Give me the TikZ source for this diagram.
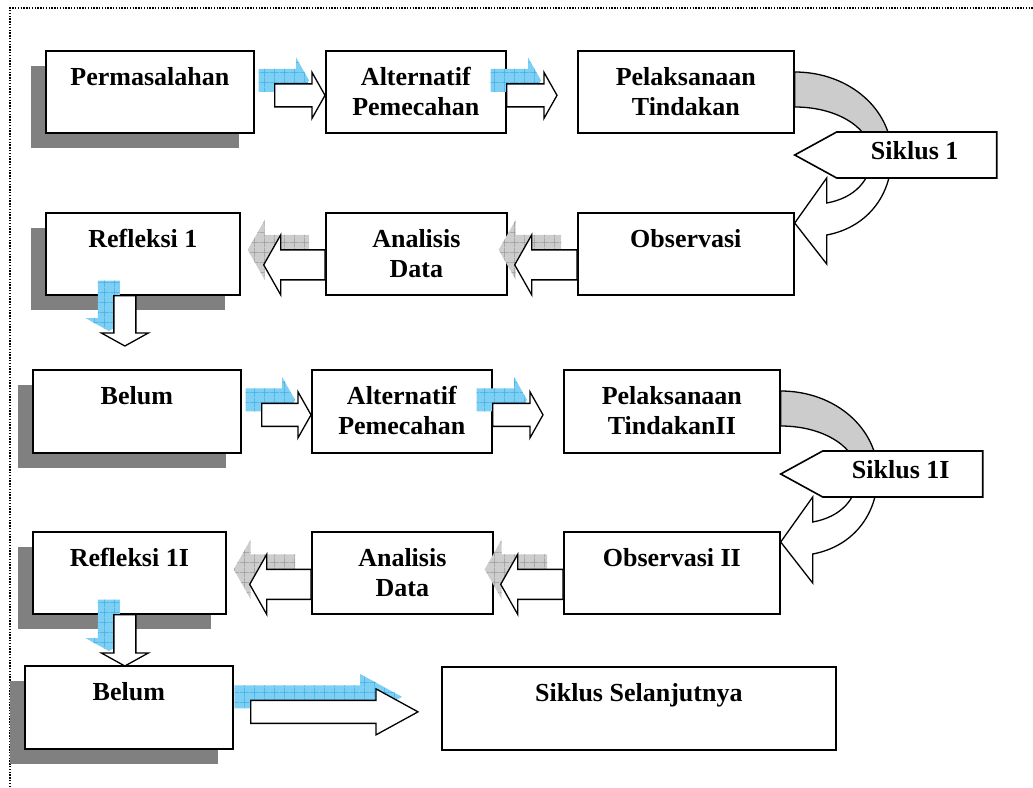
\documentclass[tikz,border=0pt]{standalone}
\usepackage{fontspec}
\setmainfont{Liberation Serif}
\usetikzlibrary{calc,shadows,patterns.meta}

\definecolor{biru}{RGB}{125,208,243}
\definecolor{birutua}{RGB}{60,170,228}
\definecolor{abu}{RGB}{205,205,205}
\definecolor{abutua}{RGB}{150,150,150}
\definecolor{bayang}{RGB}{128,128,128}
\definecolor{lengkung}{RGB}{204,204,204}

\tikzdeclarepattern{name=petak, type=uncolored,
  bounding box={(0pt,0pt) and (10pt,10pt)}, tile size={(10pt,10pt)},
  code={\draw[line width=.6pt] (0pt,5pt) -- (10pt,5pt) (5pt,0pt) -- (5pt,10pt);}}

\tikzset{
  kotak/.style={draw, line width=1.7pt, fill=white, anchor=north west, inner sep=0pt},
  berbayang/.style={drop shadow={shadow xshift=-15pt, shadow yshift=-15pt, opacity=1, fill=bayang}},
  teks/.style={anchor=north, inner sep=0pt, align=center, font=\fontsize{26}{30}\selectfont\bfseries},
  panah/.style={draw, line width=1.3pt, fill=white},
  biruarsir/.style={fill=biru, postaction={pattern=petak, pattern color=birutua}},
  abuarsir/.style={fill=abu, postaction={pattern=petak, pattern color=abutua}},
}

% badan panah blok dari titik T, H, P
\newcommand\badan[3]{($(#1T)!#2!90:(#1P)$) -- ($(#1H)!#2!90:(#1P)$) -- ($(#1H)!#3!90:(#1P)$) -- (#1P) -- ($(#1H)!#3!-90:(#1P)$) -- ($(#1H)!#2!-90:(#1P)$) -- ($(#1T)!#2!-90:(#1P)$) -- cycle}
\newcommand\blokpanah[6]{%
  \path #2 coordinate (pT) #3 coordinate (pP);
  \path ($(pP)!#6!(pT)$) coordinate (pH)
    ($(pT)+(-16,-15)$) coordinate (sT) ($(pP)+(-16,-15)$) coordinate (sP) ($(pH)+(-16,-15)$) coordinate (sH);
  \fill[#1] \badan{s}{#4}{#5};
  \draw[panah] \badan{p}{#4}{#5};
}
\newcommand\putaran[3]{%
  \begin{scope}[shift={(#1.north east)}]
  \draw[panah, fill=lengkung] (0,22) .. controls (55,22) and (97,60) .. (97,105) -- (77,105) .. controls (77,80) and (45,57) .. (0,57) -- cycle;
  \draw[panah] (97,105) .. controls (97,148) and (70,178) .. (32,185) -- (32,214) -- (0,173) -- (32,128) -- (32,153) .. controls (60,148) and (77,130) .. (77,105) -- cycle;
  \draw[panah, line width=1.6pt] (0,105) -- (42,82) -- (202,82) -- (202,128) -- (42,128) -- cycle;
  \node[teks, anchor=center] (#2) at (120,101) {#3};
  \end{scope}
}

\begin{document}
\begin{tikzpicture}[x=1pt,y=-1pt]
\useasboundingbox (0,0) rectangle (1033,787);
\draw[line width=1.4pt, dash pattern=on 1.4pt off 1.4pt] (10,787) -- (10,8) -- (1033,8);
%
\node[kotak, berbayang, minimum width=208, minimum height=82] (perm) at (45,50) {};
\node[kotak, minimum width=180, minimum height=82] (alt1) at (325,50) {};
\node[kotak, minimum width=216, minimum height=82] (pel1) at (577,50) {};
\node[kotak, berbayang, minimum width=194, minimum height=82] (ref1) at (45,212) {};
\node[kotak, minimum width=181, minimum height=82] (ana1) at (325,212) {};
\node[kotak, minimum width=216, minimum height=82] (obs1) at (577,212) {};
\node[kotak, berbayang, minimum width=208, minimum height=83] (bel1) at (32,369) {};
\node[kotak, minimum width=180, minimum height=83] (alt2) at (311,369) {};
\node[kotak, minimum width=216, minimum height=83] (pel2) at (563,369) {};
\node[kotak, berbayang, minimum width=193, minimum height=82] (ref2) at (32,531) {};
\node[kotak, minimum width=181, minimum height=82] (ana2) at (311,531) {};
\node[kotak, minimum width=216, minimum height=82] (obs2) at (563,531) {};
\node[kotak, berbayang, minimum width=208, minimum height=83] (bel2) at (24,665) {};
\node[kotak, minimum width=394, minimum height=83] (lanjut) at (441,666) {};
%
\node[teks] (perm-t) at ([shift={(0,17)}]perm.north) {Permasalahan};
\node[teks] (alt1-t) at ([shift={(0,17)}]alt1.north) {Alternatif\\Pemecahan};
\node[teks] (pel1-t) at ([shift={(0,17)}]pel1.north) {Pelaksanaan\\Tindakan};
\node[teks] (ref1-t) at ([shift={(0,17)}]ref1.north) {Refleksi 1};
\node[teks] (ana1-t) at ([shift={(0,17)}]ana1.north) {Analisis\\Data};
\node[teks] (obs1-t) at ([shift={(0,17)}]obs1.north) {Observasi};
\node[teks] (bel1-t) at ([shift={(0,17)}]bel1.north) {Belum};
\node[teks] (alt2-t) at ([shift={(0,17)}]alt2.north) {Alternatif\\Pemecahan};
\node[teks] (pel2-t) at ([shift={(0,17)}]pel2.north) {Pelaksanaan\\TindakanII};
\node[teks] (ref2-t) at ([shift={(0,17)}]ref2.north) {Refleksi 1I};
\node[teks] (ana2-t) at ([shift={(0,17)}]ana2.north) {Analisis\\Data};
\node[teks] (obs2-t) at ([shift={(0,17)}]obs2.north) {Observasi II};
\node[teks] (bel2-t) at ([shift={(0,17)}]bel2.north) {Belum};
\node[teks] (lanjut-t) at ([shift={(0,17)}]lanjut.north) {Siklus Selanjutnya};
%
\blokpanah{biruarsir}{([shift={(20,3.5)}]perm.east)}{([shift={(0,3.5)}]alt1.west)}{11.5pt}{23pt}{13pt}
\blokpanah{biruarsir}{([shift={(0,3.5)}]alt1.east)}{([shift={(-20,3.5)}]pel1.west)}{11.5pt}{23pt}{13pt}
\putaran{pel1}{sik1}{Siklus 1}
\blokpanah{abuarsir}{([shift={(0,11)}]obs1.west)}{([shift={(7,11)}]ana1.east)}{15pt}{30pt}{17pt}
\blokpanah{abuarsir}{([shift={(0,11)}]ana1.west)}{([shift={(23,11)}]ref1.east)}{15pt}{30pt}{17pt}
\blokpanah{biruarsir}{([shift={(-18,0)}]ref1.south)}{([shift={(-12,-23)}]bel1.north)}{11pt}{23.5pt}{13pt}
%
\blokpanah{biruarsir}{([shift={(20,3.5)}]bel1.east)}{([shift={(0,3.5)}]alt2.west)}{11.5pt}{23pt}{13pt}
\blokpanah{biruarsir}{([shift={(0,3.5)}]alt2.east)}{([shift={(-20,3.5)}]pel2.west)}{11.5pt}{23pt}{13pt}
\putaran{pel2}{sik2}{Siklus 1I}
\blokpanah{abuarsir}{([shift={(0,11.5)}]obs2.west)}{([shift={(7,11.5)}]ana2.east)}{15pt}{30pt}{17pt}
\blokpanah{abuarsir}{([shift={(0,11.5)}]ana2.west)}{([shift={(23,11.5)}]ref2.east)}{15pt}{30pt}{17pt}
\blokpanah{biruarsir}{([shift={(-4.5,0)}]ref2.south)}{([shift={(-4,1)}]bel2.north)}{11pt}{23.5pt}{13pt}
\blokpanah{biruarsir}{([shift={(17,4.5)}]bel2.east)}{([shift={(-23,3.5)}]lanjut.west)}{11.5pt}{23pt}{42pt}
%
\end{tikzpicture}
\end{document}
